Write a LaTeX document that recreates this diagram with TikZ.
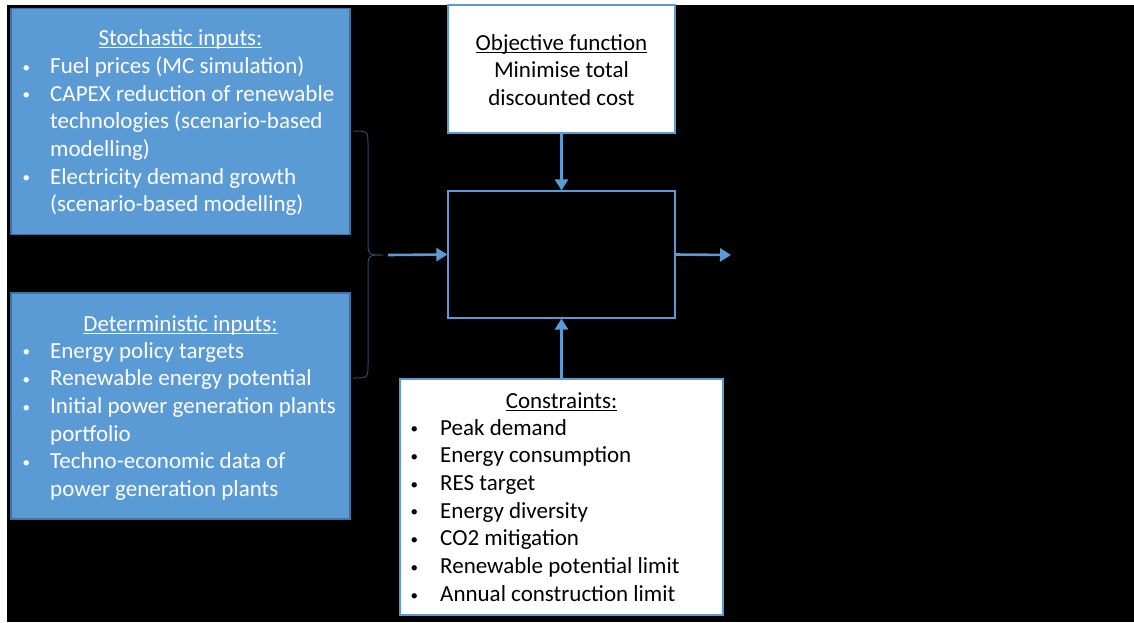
\documentclass[tikz,border=0pt]{standalone}
\usepackage{fontspec}
\setmainfont{Carlito}
\usetikzlibrary{arrows.meta}
\definecolor{bfill}{HTML}{5B9BD5}
\definecolor{bedge}{HTML}{41719C}
\definecolor{bracecol}{HTML}{2A4A6E}
\newcommand{\ulx}[1]{\setbox0\hbox{#1}\rlap{\rule[-2.6pt]{\wd0}{1.1pt}}\box0}
\newcommand{\dotb}{\raisebox{1.2pt}{\fontsize{15}{15}\selectfont\textbullet}}
\newcommand{\bul}{\makebox[27.5pt][l]{\dotb}}
\newcommand{\bulc}{\makebox[29.5pt][l]{\dotb}}
\tikzset{
  inbox/.style={draw=bedge, fill=bfill, line width=1.2pt, inner sep=0pt},
  wbox/.style={draw=bfill, fill=white, line width=1.2pt, inner sep=0pt},
  cbox/.style={draw=bfill, fill=black, line width=1.2pt, inner sep=0pt},
  arr/.style={draw=bfill, line width=2.6pt, -{Triangle[length=11pt,width=13pt]}},
  ttl/.style={anchor=base, inner sep=0pt},
  lst/.style={anchor=base west, inner sep=0pt, align=left},
}
\begin{document}
\begin{tikzpicture}[x=1pt,y=-1pt,font=\fontsize{23}{27.7}\selectfont]
\useasboundingbox (0,0) rectangle (1134,622);
\fill[black] (7,5) rectangle (1134,622);

% boxes
\node[inbox, minimum width=339pt, minimum height=226pt] (stoch) at (180.5,121.5) {};
\node[inbox, minimum width=339pt, minimum height=226pt] (det) at (180.5,406) {};
\node[wbox, minimum width=227pt, minimum height=128pt] (obj) at (561.5,69) {};
\node[cbox, minimum width=227pt, minimum height=127pt] (central) at (561.5,254.5) {};
\node[wbox, minimum width=323pt, minimum height=236pt] (cons) at (561.5,497) {};

% stochastic text
\node[ttl, text=white] (stitle) at (180.5,45.7) {\ulx{Stochastic inputs:}};
\node[lst, text=white] (slist) at (22.5,73.3) {\begin{tabular}[t]{@{}l@{}l@{}}
\bul & Fuel prices (MC simulation)\\
\bul & CAPEX reduction of renewable\\
 & technologies (scenario-based\\
 & modelling)\\
\bul & Electricity demand growth\\
 & (scenario-based modelling)
\end{tabular}};

% deterministic text
\node[ttl, text=white] (dtitle) at (180.5,331.7) {\ulx{Deterministic inputs:}};
\node[lst, text=white] (dlist) at (22.5,358) {\begin{tabular}[t]{@{}l@{}l@{}}
\bul & Energy policy targets\\
\bul & Renewable energy potential\\
\bul & Initial power generation plants\\
 & portfolio\\
\bul & Techno-economic data of\\
 & power generation plants
\end{tabular}};

% objective text
\node[ttl] (otitle) at (561.5,50) {\ulx{Objective function}};
\node[ttl] (otext) at (561.5,77.3) {\begin{tabular}[t]{@{}c@{}}
Minimise total\\
discounted cost
\end{tabular}};

% constraints text
\node[ttl] (ctitle) at (561.5,408.3) {\ulx{Constraints:}};
\node[lst] (clist) at (410.5,435) {\begin{tabular}[t]{@{}l@{}l@{}}
\bulc & Peak demand\\
\bulc & Energy consumption\\
\bulc & RES target\\
\bulc & Energy diversity\\
\bulc & CO2 mitigation\\
\bulc & Renewable potential limit\\
\bulc & Annual construction limit
\end{tabular}};

% brace
\draw[bracecol, line width=1pt]
  (353,131) .. controls (368,131) .. (368,146) -- (368,240)
  .. controls (368,255) .. (383,255)
  .. controls (368,255) .. (368,270) -- (368,363)
  .. controls (368,378) .. (353,378);

\coordinate (bracetip) at (388,255);
\coordinate (outend) at (731,255);

% arrows
\draw[arr] (obj.south) -- (central.north);
\draw[arr] (cons.north) -- (central.south);
\draw[arr] (bracetip) -- (central.west);
\draw[arr] (central.east) -- (outend);
\end{tikzpicture}
\end{document}
